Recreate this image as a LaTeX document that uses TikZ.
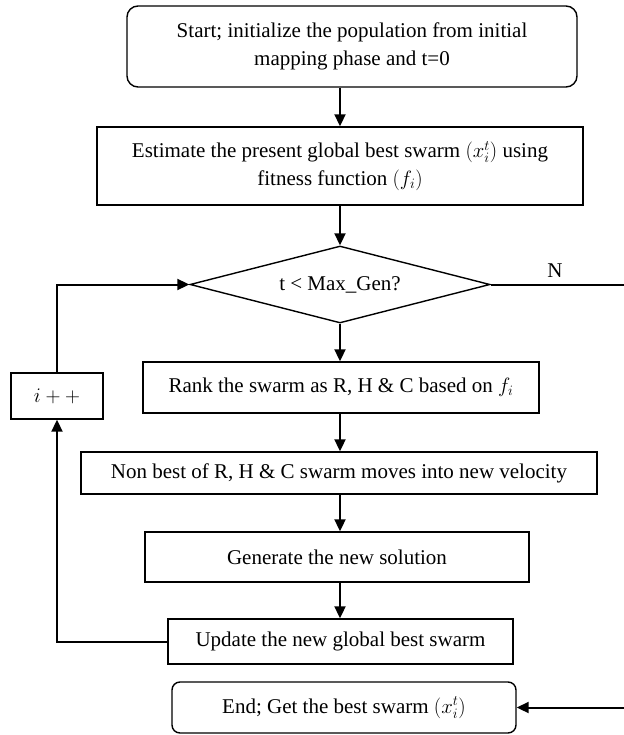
\documentclass[tikz,border=0pt]{standalone}
\usepackage{fontspec}
\setmainfont{Liberation Serif}
\usetikzlibrary{arrows.meta,shapes.geometric}
\begin{document}
\begin{tikzpicture}[x=1pt,y=-1pt,
  font=\fontsize{21}{27.5}\selectfont,
  box/.style={draw, line width=1.4pt, inner sep=0pt, align=center},
  rbox/.style={box, rounded corners=11pt},
  diam/.style={draw, diamond, line width=1.4pt, inner sep=0pt, aspect=3.9,
    minimum width=300pt, minimum height=77pt},
  arr/.style={line width=2pt, -{Triangle[length=12pt,width=11pt]}},
  conn/.style={line width=2pt}]
\useasboundingbox (0,0) rectangle (623,735);
% nodes
\node[rbox, minimum width=450pt, minimum height=81pt] (start) at (352,46.5)
  {Start; initialize the population from initial\\mapping phase and t=0};
\node[box, minimum width=486pt, minimum height=78pt] (est) at (340,166)
  {Estimate the present global best swarm $(x_i^t)$ using\\fitness function $(f_i)$};
\node[diam] (dia) at (340,284.5) {t < Max\_Gen?};
\node[box, minimum width=396pt, minimum height=51pt] (rank) at (341,387.5)
  {Rank the swarm as R, H \& C based on $f_i$};
\node[box, minimum width=516pt, minimum height=42pt] (nonbest) at (339,473)
  {Non best of R, H \& C swarm moves into new velocity};
\node[box, minimum width=384pt, minimum height=50pt] (gen) at (337,557)
  {Generate the new solution};
\node[box, minimum width=345pt, minimum height=45pt] (upd) at (340.5,641.5)
  {Update the new global best swarm};
\node[rbox, rounded corners=8pt, minimum width=344pt, minimum height=51pt] (endb) at (344,707.5)
  {End; Get the best swarm $(x_i^t)$};
\node[box, minimum width=92pt, minimum height=46pt] (inc) at (57,396) {$i + +$};
\coordinate (col) at (340,0);
\coordinate (lcol) at (57,0);
\coordinate (rcol) at (626,0);
\node (nlab) at (555,271) {N};
% connectors
\draw[arr] (start.south -| col) -- (est.north -| col);
\draw[arr] (est.south -| col) -- (dia.north);
\draw[arr] (dia.south) -- (rank.north -| col);
\draw[arr] (rank.south -| col) -- (nonbest.north -| col);
\draw[arr] (nonbest.south -| col) -- (gen.north -| col);
\draw[arr] (gen.south -| col) -- (upd.north -| col);
\draw[arr] (upd.west) -| (inc.south);
\draw[arr] (inc.north) |- (dia.west);
\draw[arr] (dia.east) -- (dia.east -| rcol) |- (endb.east);
\end{tikzpicture}
\end{document}
